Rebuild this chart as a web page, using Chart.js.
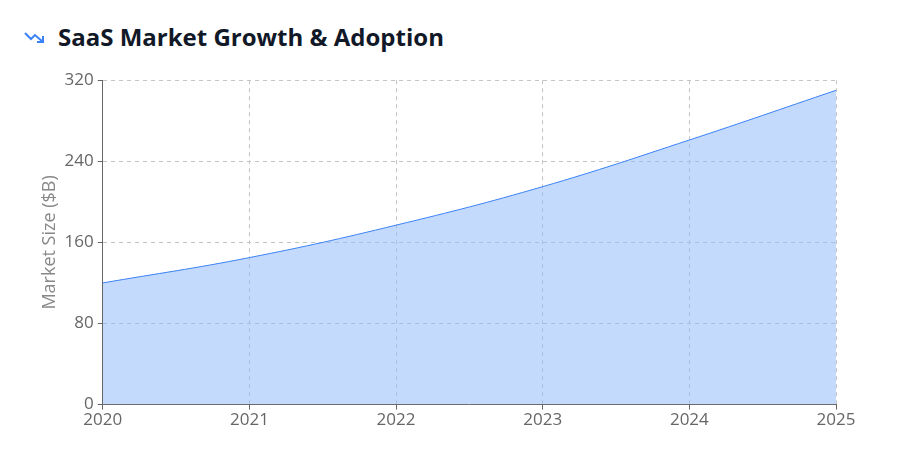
<!DOCTYPE html><html><head><meta charset="utf-8">
<script src="https://cdn.jsdelivr.net/npm/chart.js@4"></script>
<style>
body{margin:0;background:#fff;font-family:"Open Sans",sans-serif;}
#t{position:absolute;left:24px;top:20px;font-size:24px;font-weight:700;color:#111827;display:flex;align-items:center;}
#t svg{margin-right:12px}
#w{position:absolute;left:0;top:66px;width:900px;height:380px;}
</style></head><body>
<div id="t"><svg width="22" height="16" viewBox="0 0 22 16"><polyline points="1,4 7,10 11,6 19,13" fill="none" stroke="#3b82f6" stroke-width="2"/><polyline points="13,13 19,13 19,7" fill="none" stroke="#3b82f6" stroke-width="2"/></svg>SaaS Market Growth &amp; Adoption</div>
<div id="w"><canvas id="c"></canvas></div>
<script>
const years=["2020","2021","2022","2023","2024","2025"];
const marketSize=[120,145,177,215,261,310];
const yTicks=[0,80,160,240,320];
new Chart(document.getElementById('c'),{type:'line',
data:{labels:years,datasets:[{data:marketSize,borderColor:'#3b82f6',borderWidth:1,backgroundColor:'rgba(147,187,250,0.55)',fill:true,tension:0.4,pointRadius:0}]},
options:{responsive:true,maintainAspectRatio:false,animation:false,
layout:{padding:{left:39,right:64,top:13,bottom:16}},
plugins:{legend:{display:false},tooltip:{enabled:false}},
scales:{x:{border:{color:'#666',dash:[4,4]},
 ticks:{color:'#666',font:{family:'Open Sans',size:17},padding:0},
 grid:{color:'#c4c4c4',tickColor:'#666',tickLength:5}},
 y:{min:0,max:320,afterBuildTicks:a=>{a.ticks=yTicks.map(v=>({value:v}));},
 border:{color:'#666',dash:[4,4]},
 grid:{color:'#c4c4c4',tickColor:'#666',tickLength:5},
 ticks:{color:'#666',font:{family:'Open Sans',size:17},padding:4},
 title:{display:true,text:'Market Size ($B)',color:'#888',font:{family:'Open Sans',size:18},padding:0}}}}
});
</script>
</body></html>
